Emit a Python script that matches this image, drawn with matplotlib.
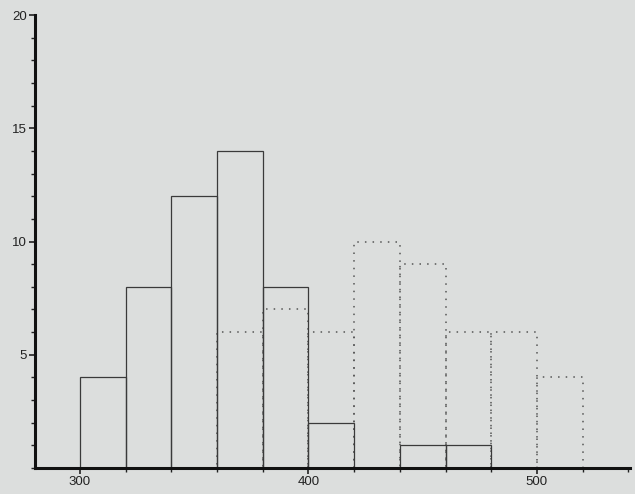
import matplotlib
matplotlib.use('Agg')
from matplotlib import pyplot as plt
from matplotlib.ticker import MultipleLocator

# bin left edges and counts, bin width 20
bin_width = 20
solid_edges = [300, 320, 340, 360, 380, 400, 420, 440, 460]
solid_counts = [4, 8, 12, 14, 8, 2, 0, 1, 1]

dotted_edges = [360, 380, 400, 420, 440, 460, 480, 500]
dotted_counts = [6, 7, 6, 10, 9, 6, 6, 4]

x_ticks = [300, 400, 500]
y_ticks = [5, 10, 15, 20]

bg = '#dcdedd'
plt.rcParams['font.family'] = ['Liberation Sans', 'DejaVu Sans']

fig = plt.figure(figsize=(6.35, 4.94), dpi=100, facecolor=bg)
ax = fig.add_axes([0.055, 0.0526, 0.937, 0.917], facecolor=bg)

ax.bar(dotted_edges, dotted_counts, width=bin_width, align='edge',
       fill=False, edgecolor='#555555', linestyle=(0, (1, 4)), linewidth=1.1)
ax.bar(solid_edges, solid_counts, width=bin_width, align='edge',
       fill=False, edgecolor='#3a3a3a', linewidth=0.9)

ax.set_xlim(280.3, 540.7)
ax.set_ylim(0, 20)

for s in ['top', 'right']:
    ax.spines[s].set_visible(False)
for s in ['left', 'bottom']:
    ax.spines[s].set_linewidth(2.2)
    ax.spines[s].set_color('#111111')

ax.set_xticks(x_ticks)
ax.set_yticks(y_ticks)
ax.xaxis.set_minor_locator(MultipleLocator(20))
ax.yaxis.set_minor_locator(MultipleLocator(1))
ax.tick_params(axis='both', which='major', direction='out', length=4,
               width=1.2, labelsize=9.5, colors='#222222', pad=2)
ax.tick_params(axis='both', which='minor', direction='out', length=3,
               width=1.0, colors='#222222')

fig.savefig('out.png', dpi=100, facecolor=bg)
